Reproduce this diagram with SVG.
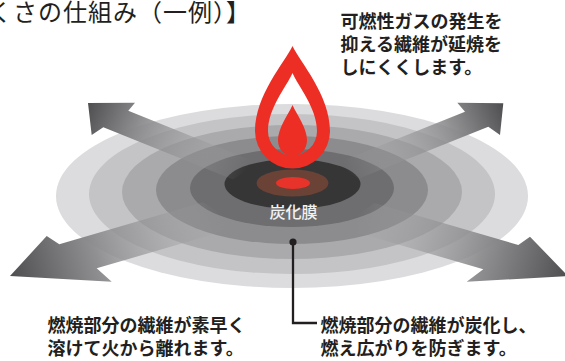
<svg xmlns="http://www.w3.org/2000/svg" width="565" height="361" viewBox="0 0 565 361">
  <style>
    .jp { font-family: "Noto Sans CJK JP", "Noto Sans", sans-serif; fill: #231f20; }
    .note { font-size: 18px; font-weight: 700; }
    .title { font-size: 24px; font-weight: 400; letter-spacing: 1px; }
    .flame { fill: #ec2e24; }
  </style>
  <defs>
    <linearGradient id="gUL" gradientUnits="userSpaceOnUse" x1="88" y1="103" x2="246" y2="171">
      <stop offset="0" stop-color="#4e4e50"/>
      <stop offset="0.3" stop-color="#858587" stop-opacity="0.95"/>
      <stop offset="0.55" stop-color="#8e8e90" stop-opacity="0.6"/>
      <stop offset="0.85" stop-color="#9a9a9c" stop-opacity="0.2"/>
      <stop offset="1" stop-color="#9a9a9c" stop-opacity="0"/>
    </linearGradient>
    <linearGradient id="gUR" gradientUnits="userSpaceOnUse" x1="503" y1="103" x2="347" y2="171">
      <stop offset="0" stop-color="#4e4e50"/>
      <stop offset="0.3" stop-color="#858587" stop-opacity="0.95"/>
      <stop offset="0.55" stop-color="#8e8e90" stop-opacity="0.6"/>
      <stop offset="0.85" stop-color="#9a9a9c" stop-opacity="0.2"/>
      <stop offset="1" stop-color="#9a9a9c" stop-opacity="0"/>
    </linearGradient>
    <linearGradient id="gLL" gradientUnits="userSpaceOnUse" x1="10" y1="276" x2="222" y2="214">
      <stop offset="0" stop-color="#4e4e50"/>
      <stop offset="0.4" stop-color="#8a8a8c" stop-opacity="0.95"/>
      <stop offset="0.62" stop-color="#8e8e90" stop-opacity="0.6"/>
      <stop offset="0.88" stop-color="#9a9a9c" stop-opacity="0.2"/>
      <stop offset="1" stop-color="#9a9a9c" stop-opacity="0"/>
    </linearGradient>
    <linearGradient id="gLR" gradientUnits="userSpaceOnUse" x1="568" y1="276" x2="357" y2="215">
      <stop offset="0" stop-color="#4e4e50"/>
      <stop offset="0.4" stop-color="#8a8a8c" stop-opacity="0.95"/>
      <stop offset="0.62" stop-color="#8e8e90" stop-opacity="0.6"/>
      <stop offset="0.88" stop-color="#9a9a9c" stop-opacity="0.2"/>
      <stop offset="1" stop-color="#9a9a9c" stop-opacity="0"/>
    </linearGradient>
  </defs>

  <rect width="565" height="361" fill="#ffffff"/>

  <!-- heading, clipped at the left edge -->
  <text id="title" class="jp title" x="-12" y="21">くさの仕組み（一例）】</text>

  <!-- concentric fibre rings -->
  <g id="rings">
    <ellipse cx="292" cy="196" rx="236" ry="92" fill="#dcdcde"/>
    <ellipse cx="292" cy="194" rx="203" ry="80" fill="#c4c4c6"/>
    <ellipse cx="292" cy="192" rx="170" ry="67" fill="#aaaaac"/>
    <ellipse cx="292" cy="190" rx="136" ry="54" fill="#8c8c8e"/>
    <ellipse cx="292" cy="188" rx="102" ry="39" fill="#6e6e70"/>
    <ellipse cx="292.5" cy="184" rx="68" ry="25" fill="#363637"/>
    <ellipse cx="292.5" cy="183" rx="36" ry="13.5" fill="#6b4236"/>
    <ellipse cx="293" cy="183" rx="17" ry="6" fill="#e8332a"/>
  </g>

  <!-- spreading arrows -->
  <g id="arrows">
    <path id="arrow-ul" fill="url(#gUL)" d="M88,103 L135,102.7 L128.3,110.7 L258,163 L233,179.5 L103.3,127.3 L91.7,135 Z"/>
    <path id="arrow-ur" fill="url(#gUR)" d="M503.3,103.3 L457.3,102.7 L465,111.7 L335,163.7 L358.3,178.7 L488.3,126.7 L500,135 Z"/>
    <path id="arrow-ll" fill="url(#gLL)" d="M10,276 L46.7,236 L59.3,244.3 L203,202.3 L240.7,226.3 L96.7,268.3 L111.7,281.7 Z"/>
    <path id="arrow-lr" fill="url(#gLR)" d="M568,276 L530,236.7 L518.3,245 L374.3,203 L339.3,227.3 L483.3,269.3 L466.7,281.7 Z"/>
  </g>

  <!-- flame -->
  <g id="flame">
    <path class="flame" fill-rule="evenodd" d="M292.5,46 C300,62 330,95 330,131 A37.5,37.5 0 0 1 255,131 C255,95 285,62 292.5,46 Z M292.5,73 C298,86 317,108 317,131 A24.5,24.5 0 0 1 268,131 C268,108 287,86 292.5,73 Z"/>
    <path class="flame" d="M292.5,105 C297,115 307,128 307,140 C307,150 300,156 292.5,156 C285,156 278,150 278,140 C278,128 288,115 292.5,105 Z"/>
  </g>

  <text id="label-char" x="293.5" y="218" text-anchor="middle" font-family="Noto Sans CJK JP, sans-serif" font-size="16" font-weight="500" fill="#f2f2f2">炭化膜</text>

  <!-- callout from the char layer -->
  <g id="callout" fill="none" stroke="#231f20" stroke-width="2.3">
    <polyline points="293,242 293,323 317,323"/>
    <circle cx="293" cy="242" r="3.6" fill="#231f20" stroke="none"/>
  </g>

  <g id="note-top" class="jp note">
    <text x="340.5" y="28">可燃性ガスの発生を</text>
    <text x="340.5" y="51">抑える繊維が延焼を</text>
    <text x="340.5" y="74">しにくくします。</text>
  </g>
  <g id="note-left" class="jp note">
    <text x="47.5" y="332">燃焼部分の繊維が素早く</text>
    <text x="47.5" y="355">溶けて火から離れます。</text>
  </g>
  <g id="note-right" class="jp note">
    <text x="320.5" y="332">燃焼部分の繊維が炭化し、</text>
    <text x="320.5" y="355">燃え広がりを防ぎます。</text>
  </g>
</svg>
